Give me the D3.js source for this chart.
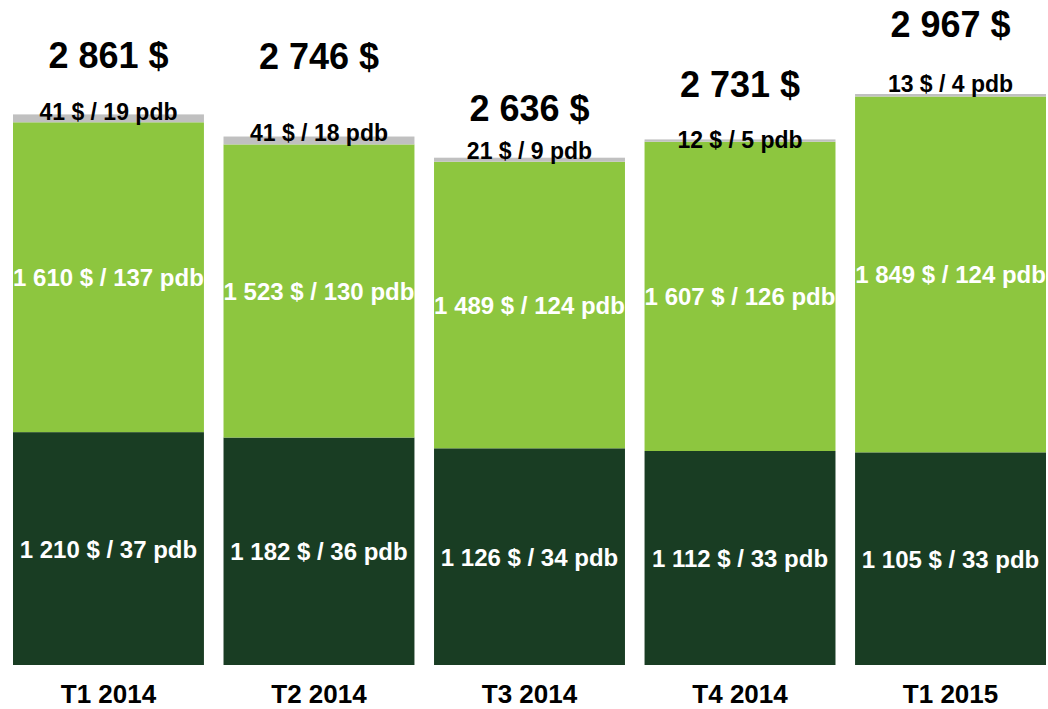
<!DOCTYPE html>
<html>
<head>
<meta charset="utf-8">
<script src="https://cdn.jsdelivr.net/npm/d3@7"></script>
<style>
  body { margin: 0; background: #fff; }
  text { font-family: "Liberation Sans", Arial, sans-serif; font-weight: bold; }
</style>
</head>
<body>
<div id="chart"></div>
<script>
var width = 1048,
    height = 709;

// data
var quarters = ["T1 2014", "T2 2014", "T3 2014", "T4 2014", "T1 2015"];
var darkAmt = [1210, 1182, 1126, 1112, 1105];
var darkPdb = [37, 36, 34, 33, 33];
var lightAmt = [1610, 1523, 1489, 1607, 1849];
var lightPdb = [137, 130, 124, 126, 124];
var greyAmt = [41, 41, 21, 12, 13];
var greyPdb = [19, 18, 9, 5, 4];
var totals = [2861, 2746, 2636, 2731, 2967];

// label placement (px above / below the bar top)
var totalLift = [46, 68, 37, 42, 57];
var greyDrop = [6, 4, 1, 9, -2];

var fmt = function(v) { return d3.format(",")(v).replace(/,/g, " "); };

var svg = d3.select("#chart").append("svg")
  .attr("width", width)
  .attr("height", height);

var x = d3.scaleBand()
  .domain(quarters)
  .range([13, 1046])
  .paddingInner(0.093)
  .paddingOuter(0);

var y = d3.scaleLinear()
  .domain([0, d3.max(totals)])
  .range([665, 94]);

var rows = quarters.map(function(q, i) {
  return {
    q: q, i: i,
    segs: [
      { key: "dark", amt: darkAmt[i], pdb: darkPdb[i], y0: 0, y1: darkAmt[i] },
      { key: "light", amt: lightAmt[i], pdb: lightPdb[i], y0: darkAmt[i], y1: darkAmt[i] + lightAmt[i] },
      { key: "grey", amt: greyAmt[i], pdb: greyPdb[i], y0: darkAmt[i] + lightAmt[i], y1: darkAmt[i] + lightAmt[i] + greyAmt[i] }
    ]
  };
});

var color = { dark: "#193d23", light: "#8dc63f", grey: "#c0c0c0" };

var g = svg.selectAll("g.bar")
  .data(rows)
  .enter().append("g")
  .attr("class", "bar");

g.selectAll("rect")
  .data(function(d) { return d.segs; })
  .enter().append("rect")
  .attr("x", function(d) { return x(this.parentNode.__data__.q); })
  .attr("width", x.bandwidth())
  .attr("y", function(d) { return y(d.y1); })
  .attr("height", function(d) { return y(d.y0) - y(d.y1); })
  .attr("fill", function(d) { return color[d.key]; });

// inner labels for dark and light segments
g.selectAll("text.seg")
  .data(function(d) { return d.segs.filter(function(s) { return s.key !== "grey"; }); })
  .enter().append("text")
  .attr("class", "seg")
  .attr("x", function(d) { return x(this.parentNode.__data__.q) + x.bandwidth() / 2; })
  .attr("y", function(d) { return (y(d.y0) + y(d.y1)) / 2 + 9; })
  .attr("text-anchor", "middle")
  .attr("font-size", "24px")
  .attr("fill", "#fff")
  .text(function(d) { return fmt(d.amt) + " $ / " + d.pdb + " pdb"; });

// grey segment labels
g.append("text")
  .attr("x", function(d) { return x(d.q) + x.bandwidth() / 2; })
  .attr("y", function(d) { return y(totals[d.i]) + greyDrop[d.i]; })
  .attr("text-anchor", "middle")
  .attr("font-size", "23px")
  .attr("fill", "#000")
  .text(function(d) { return greyAmt[d.i] + " $ / " + greyPdb[d.i] + " pdb"; });

// totals
g.append("text")
  .attr("x", function(d) { return x(d.q) + x.bandwidth() / 2; })
  .attr("y", function(d) { return y(totals[d.i]) - totalLift[d.i]; })
  .attr("text-anchor", "middle")
  .attr("font-size", "36px")
  .attr("fill", "#000")
  .text(function(d) { return fmt(totals[d.i]) + " $"; });

// category axis
var xAxis = d3.axisBottom(x).tickSize(0).tickPadding(0);
var ax = svg.append("g")
  .attr("transform", "translate(0,703)")
  .call(xAxis);
ax.select(".domain").remove();
ax.selectAll("text")
  .attr("font-size", "26px")
  .attr("fill", "#000")
  .attr("dy", "0");
</script>
</body>
</html>
